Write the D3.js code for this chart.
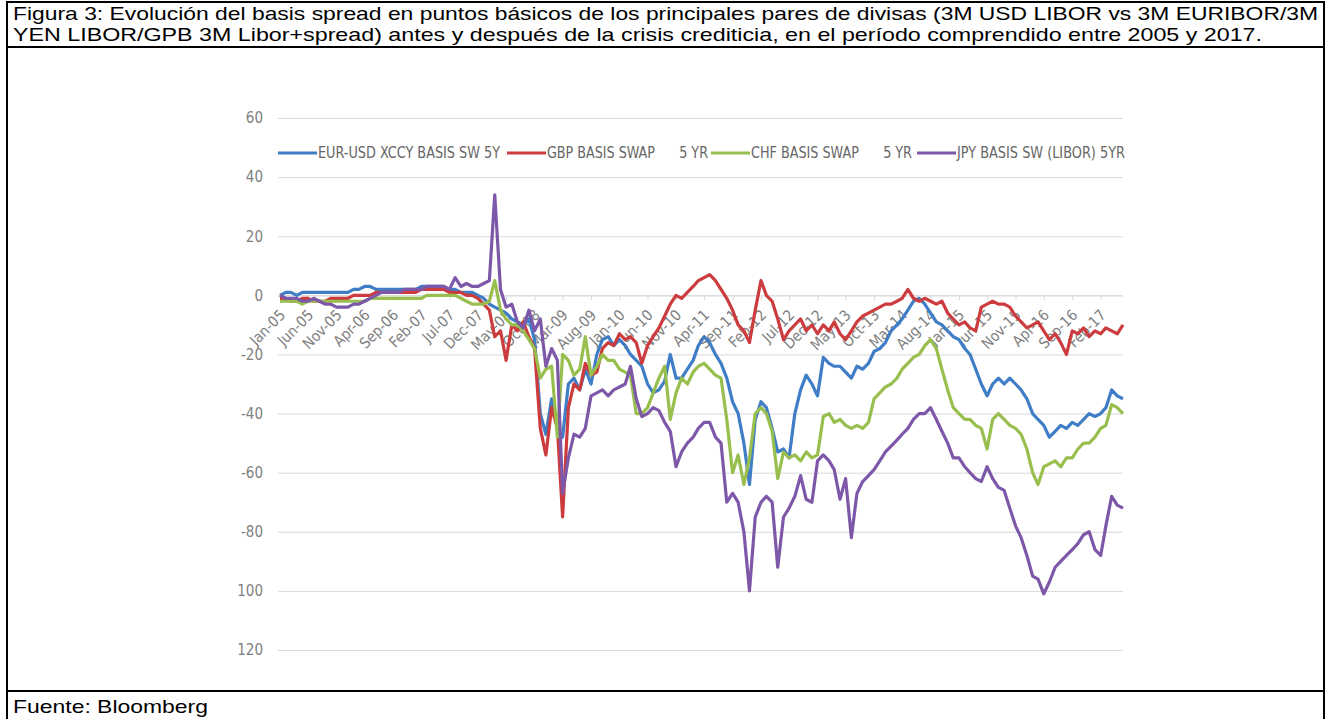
<!DOCTYPE html>
<html>
<head>
<meta charset="utf-8">
<script src="https://cdnjs.cloudflare.com/ajax/libs/d3/7.8.5/d3.min.js"></script>
<style>
  body { margin: 0; background: #fff; }
  .axis-label { font-family: "Liberation Sans Narrow", "DejaVu Sans Condensed", sans-serif; font-size: 15px; fill: #808080; }
  .legend-text { font-family: "Liberation Sans Narrow", "DejaVu Sans Condensed", sans-serif; font-size: 15px; fill: #666; white-space: pre; }
  .frame-text { font-family: "Liberation Sans", Arial, sans-serif; font-size: 18.5px; fill: #000; }
</style>
</head>
<body>
<div id="chart"></div>
<script>
// serie mensual desde ene-2005 hasta jun-2017
var startMonth = '2005-01';

var seriesNames = ['EUR-USD XCCY BASIS SW 5Y', 'GBP BASIS SWAP      5 YR', 'CHF BASIS SWAP      5 YR', 'JPY BASIS SW (LIBOR) 5YR'];

var eurUsd = [
  0, 1, 1, 0, 1, 1, 1, 1, 1, 1, 1, 1,
  1, 2, 2, 3, 3, 2, 2, 2, 2, 2, 2, 2,
  2, 3, 3, 3, 3, 3, 2, 2, 1, 1, 1, 0,
  -1, -3, -4, -5, -6, -8, -9, -10, -8, -15, -40, -47,
  -35, -45, -48, -30, -28, -32, -25, -30, -20, -15, -14, -17,
  -15, -17, -20, -22, -24, -30, -33, -32, -29, -20, -28, -28,
  -25, -22, -17, -14, -16, -20, -23, -28, -36, -40, -50, -64,
  -42, -36, -38, -45, -53, -52, -55, -40, -32, -27, -30, -34,
  -21, -23, -24, -24, -26, -28, -24, -25, -23, -19, -18, -16,
  -12, -10, -8, -5, -2, -1, -3, -6, -9, -10, -12, -14,
  -15, -18, -20, -25, -30, -34, -30, -28, -30, -28, -30, -32,
  -35, -40, -42, -44, -48, -46, -44, -45, -43, -44, -42, -40,
  -41, -40, -38, -32, -34, -35
];

var gbp = [
  -1, -1, -2, -2, -1, -1, -2, -2, -2, -1, -1, -1,
  -1, 0, 0, 0, 0, 1, 1, 1, 1, 1, 1, 1,
  1, 2, 2, 2, 2, 2, 1, 1, 1, 0, 0, -1,
  -3, -5, -14, -12, -22, -10, -12, -9, -14, -18, -45, -54,
  -38, -45, -75, -38, -30, -32, -23, -27, -26, -18, -16, -17,
  -13, -15, -14, -16, -23, -17, -14, -11, -7, -3, 0, -1,
  1, 3, 5, 6, 7, 5, 2, -1, -5, -10, -12, -16,
  -5, 5, 0, -2, -8, -15, -12, -10, -8, -12, -10, -13,
  -10, -12, -9, -13, -15, -12, -9, -7, -6, -5, -4, -3,
  -3, -2, -1, 2, -1, -2, -1, -2, -3, -2, -6, -8,
  -10, -9, -11, -12, -4, -3, -2, -3, -3, -4, -7, -9,
  -11, -10, -9, -12, -15, -13, -16, -20, -12, -13, -11, -14,
  -12, -13, -11, -12, -13, -10
];

var chf = [
  -2, -2, -2, -2, -3, -2, -2, -2, -2, -2, -2, -2,
  -2, -2, -2, -2, -1, -1, -1, -1, -1, -1, -1, -1,
  -1, -1, 0, 0, 0, 0, 0, 0, -1, -2, -3, -3,
  -3, -2, 5, -5, -8, -10, -10, -12, -15, -18, -28, -25,
  -24, -48, -20, -22, -27, -25, -14, -27, -24, -20, -22, -22,
  -25, -26, -27, -40, -40, -38, -33, -28, -24, -42, -33, -28,
  -30, -26, -24, -23, -25, -27, -28, -42, -60, -54, -64, -55,
  -40, -38, -40, -46, -62, -53, -55, -54, -56, -53, -55, -54,
  -41, -40, -43, -42, -44, -45, -44, -45, -43, -35, -33, -31,
  -30, -28, -25, -23, -21, -20, -17, -15, -18, -25, -32, -38,
  -40, -42, -42, -44, -45, -52, -42, -40, -42, -44, -45, -47,
  -52, -60, -64, -58, -57, -56, -58, -55, -55, -52, -50, -50,
  -48, -45, -44, -37, -38, -40
];

var jpy = [
  0, -1, -1, -1, -2, -2, -1, -2, -3, -3, -4, -4,
  -4, -3, -3, -2, -1, 0, 1, 1, 1, 1, 2, 2,
  2, 2, 3, 3, 3, 3, 2, 6, 3, 4, 3, 3,
  4, 5, 34, 2, -4, -3, -9, -11, -5, -12, -8, -24,
  -18, -22, -67, -55, -47, -48, -45, -34, -33, -32, -34, -32,
  -31, -30, -24, -35, -41, -40, -38, -39, -43, -46, -58, -53,
  -50, -48, -45, -43, -43, -48, -50, -70, -67, -70, -80, -100,
  -75, -70, -68, -70, -92, -75, -72, -68, -61, -69, -70, -56,
  -54, -56, -59, -69, -62, -82, -67, -63, -61, -59, -56, -53,
  -51, -49, -47, -45, -42, -40, -40, -38, -42, -46, -50, -55,
  -55, -58, -60, -62, -63, -58, -62, -65, -66, -72, -78, -82,
  -88, -95, -96, -101, -97, -92, -90, -88, -86, -84, -81, -80,
  -86, -88, -78, -68, -71, -72
];

var xTickLabels = ['Jan-05', 'Jun-05', 'Nov-05', 'Apr-06', 'Sep-06', 'Feb-07', 'Jul-07', 'Dec-07',
  'May-08', 'Oct-08', 'Mar-09', 'Aug-09', 'Jan-10', 'Jun-10', 'Nov-10', 'Apr-11', 'Sep-11', 'Feb-12',
  'Jul-12', 'Dec-12', 'May-13', 'Oct-13', 'Mar-14', 'Aug-14', 'Jan-15', 'Jun-15', 'Nov-15', 'Apr-16',
  'Sep-16', 'Feb-17'];
var yTickValues = [60, 40, 20, 0, -20, -40, -60, -80, -100, -120];
var yTickLabels = ['60', '40', '20', '0', '-20', '-40', '-60', '-80', '100', '120'];

var colors = ['#3f7dc6', '#cc3b3d', '#98bf4e', '#7d58a9'];

var width = 1327, height = 719;
var svg = d3.select('#chart').append('svg').attr('width', width).attr('height', height);

// marco y textos del documento
var frame = svg.append('g').attr('stroke', '#000').attr('stroke-width', 2);
frame.append('line').attr('x1', 6).attr('x2', 1325).attr('y1', 2).attr('y2', 2);
frame.append('line').attr('x1', 6).attr('x2', 1325).attr('y1', 47).attr('y2', 47);
frame.append('line').attr('x1', 6).attr('x2', 1325).attr('y1', 691).attr('y2', 691);
frame.append('line').attr('x1', 7).attr('x2', 7).attr('y1', 1).attr('y2', height);
frame.append('line').attr('x1', 1324).attr('x2', 1324).attr('y1', 1).attr('y2', height);

svg.append('text').attr('class', 'frame-text').attr('x', 13).attr('y', 20)
  .attr('textLength', 1305).attr('lengthAdjust', 'spacingAndGlyphs')
  .text('Figura 3:  Evolución del basis spread en puntos básicos de los principales pares de divisas (3M USD LIBOR vs 3M EURIBOR/3M');
svg.append('text').attr('class', 'frame-text').attr('x', 13).attr('y', 41)
  .attr('textLength', 1249).attr('lengthAdjust', 'spacingAndGlyphs')
  .text('YEN LIBOR/GPB 3M Libor+spread) antes y después de la crisis crediticia, en el período comprendido entre 2005 y 2017.');
svg.append('text').attr('class', 'frame-text').attr('x', 13).attr('y', 713)
  .attr('textLength', 195).attr('lengthAdjust', 'spacingAndGlyphs')
  .text('Fuente: Bloomberg');

// escalas
var parseMonth = d3.timeParse('%Y-%m');
var parseTick = d3.timeParse('%b-%y');
var start = parseMonth(startMonth);
var dates = eurUsd.map(function (d, i) { return d3.timeMonth.offset(start, i); });

var xScale = d3.scaleTime()
  .domain([start, dates[dates.length - 1]])
  .range([280, 1123]);
var yScale = d3.scaleLinear()
  .domain([-120, 60])
  .range([650, 118]);

// eje y + rejilla
var yAxis = d3.axisLeft(yScale)
  .tickValues(yTickValues)
  .tickSize(-(1123 - 278))
  .tickPadding(15)
  .tickFormat(function (d, i) { return yTickLabels[i]; });

var gy = svg.append('g')
  .attr('transform', 'translate(278,0)')
  .call(yAxis);
gy.select('.domain').remove();
gy.selectAll('.tick line').attr('stroke', '#d9d9d9').attr('stroke-width', 1);
gy.selectAll('.tick text').attr('class', 'axis-label').attr('font-family', null).attr('font-size', null);

// eje x (cruza en 0)
var xAxis = d3.axisBottom(xScale)
  .tickValues(xTickLabels.map(function (t) { return parseTick(t); }))
  .tickSize(5)
  .tickFormat(function (d, i) { return xTickLabels[i]; });

var gx = svg.append('g')
  .attr('transform', 'translate(0,' + yScale(0) + ')')
  .call(xAxis);
gx.select('.domain').attr('stroke', '#d9d9d9').attr('d', 'M278,0.5H1123');
gx.selectAll('.tick line').attr('stroke', '#d9d9d9');
gx.selectAll('.tick text')
  .attr('class', 'axis-label')
  .attr('font-family', null).attr('font-size', null)
  .attr('text-anchor', 'end')
  .attr('dy', '0.35em')
  .attr('transform', 'translate(2,17) rotate(-45)')
  .attr('y', 0);

// lineas
var allSeries = [eurUsd, gbp, chf, jpy];
var line = d3.line()
  .x(function (d, i) { return xScale(dates[i]); })
  .y(function (d) { return yScale(d); });

svg.append('g')
  .selectAll('path')
  .data(allSeries)
  .enter()
  .append('path')
  .attr('fill', 'none')
  .attr('stroke', function (d, i) { return colors[i]; })
  .attr('stroke-width', 3.2)
  .attr('stroke-linejoin', 'round')
  .attr('d', line);

// leyenda
var legendX = [278, 507, 711, 917];
var legendTextLen = [182, 161, 161, 168];
var legend = svg.append('g')
  .selectAll('g')
  .data(seriesNames)
  .enter()
  .append('g')
  .attr('transform', function (d, i) { return 'translate(' + legendX[i] + ',153)'; });
legend.append('line')
  .attr('x1', 0).attr('x2', 39)
  .attr('stroke', function (d, i) { return colors[i]; })
  .attr('stroke-width', 3);
legend.append('text')
  .attr('class', 'legend-text')
  .attr('x', 40)
  .attr('dy', '0.35em')
  .attr('textLength', function (d, i) { return legendTextLen[i]; })
  .attr('lengthAdjust', 'spacingAndGlyphs')
  .text(function (d) { return d; });
</script>
</body>
</html>
